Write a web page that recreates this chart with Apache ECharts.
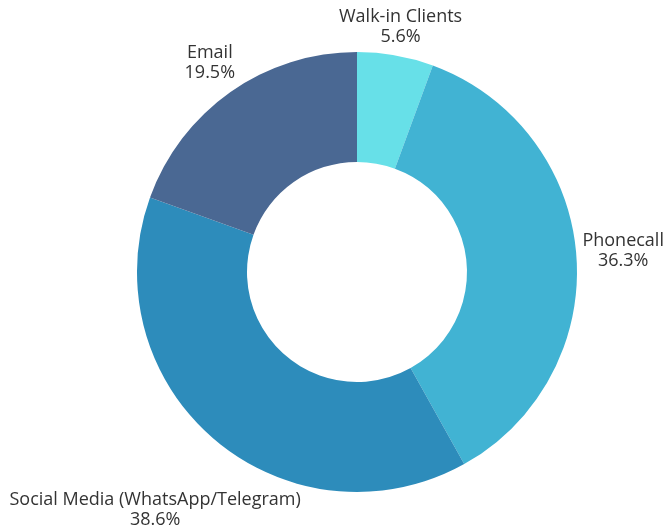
<!DOCTYPE html>
<html>
<head>
<meta charset="utf-8">
<script src="https://cdn.jsdelivr.net/npm/echarts@6/dist/echarts.min.js"></script>
<style>
  html, body { margin: 0; padding: 0; background: #ffffff; }
  #chart { width: 668px; height: 531px; }
</style>
</head>
<body>
<div id="chart"></div>
<script>
// Enquiry channels, share of total (%)
const channels = ['Walk-in Clients', 'Phonecall', 'Social Media (WhatsApp/Telegram)', 'Email'];
const shares = [5.6, 36.3, 38.6, 19.5];
const colors = ['#67e0e8', '#41b3d3', '#2d8cbb', '#4a6893'];

const chart = echarts.init(document.getElementById('chart'), null, { renderer: 'canvas' });

// Push each label outward along its slice's mid-angle until its box clears the ring.
function placeLabel(params) {
  const data = chart.getModel().getSeriesByIndex(0).getData();
  const lay = data.getItemLayout(params.dataIndex);
  if (!lay) return {};
  const mid = (lay.startAngle + lay.endAngle) / 2;
  const ux = Math.cos(mid), uy = Math.sin(mid);
  const w = params.labelRect.width, h = params.labelRect.height;
  const clearance = lay.r + 5;
  let d = lay.r;
  for (; d < lay.r + 300; d += 0.5) {
    const px = Math.max(Math.abs(d * ux) - w / 2, 0);
    const py = Math.max(Math.abs(d * uy) - h / 2, 0);
    if (Math.hypot(px, py) >= clearance) break;
  }
  return {
    x: lay.cx + d * ux,
    y: lay.cy + d * uy,
    align: 'center',
    verticalAlign: 'middle'
  };
}

chart.setOption({
  backgroundColor: '#ffffff',
  animation: false,
  series: [{
    type: 'pie',
    center: [357, 272],
    radius: [110, 220],
    startAngle: 90,
    clockwise: true,
    avoidLabelOverlap: false,
    itemStyle: { borderWidth: 0 },
    label: {
      show: true,
      position: 'outside',
      formatter: '{b}\n{c}%',
      fontFamily: 'Open Sans',
      fontSize: 18,
      lineHeight: 20,
      color: '#333333',
      align: 'center'
    },
    labelLine: { show: false },
    labelLayout: placeLabel,
    data: channels.map((name, i) => ({
      name: name,
      value: shares[i],
      itemStyle: { color: colors[i] }
    }))
  }]
});
</script>
</body>
</html>
